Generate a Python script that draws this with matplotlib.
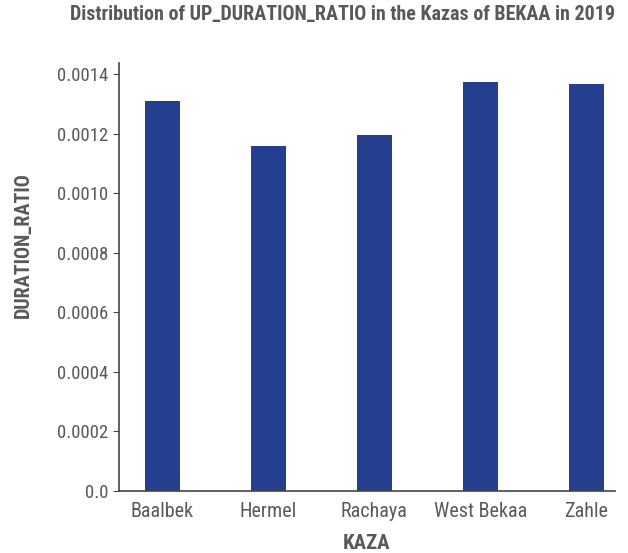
import matplotlib.pyplot as plt

kazas = ['Baalbek', 'Hermel', 'Rachaya', 'West Bekaa', 'Zahle']
ratios = [0.001309, 0.001158, 0.001195, 0.001373, 0.001366]
yticks = [0, 0.0002, 0.0004, 0.0006, 0.0008, 0.0010, 0.0012, 0.0014]
ytick_labels = ['0.0', '0.0002', '0.0004', '0.0006', '0.0008', '0.0010', '0.0012', '0.0014']

plt.rcParams['font.family'] = ['Roboto Condensed', 'Roboto', 'DejaVu Sans']

txt = '#595959'
fig = plt.figure(figsize=(6.28, 5.53), dpi=100)
ax = fig.add_axes([119 / 628, 1 - 491 / 553, 496 / 628, 428 / 553])

ax.bar(range(len(kazas)), ratios, width=0.33, color='#233F8E')
ax.set_xlim(-0.41, 4.27)
ax.set_ylim(0, 0.001437)
ax.set_xticks(range(len(kazas)))
ax.set_xticklabels(kazas)
ax.set_yticks(yticks)
ax.set_yticklabels(ytick_labels)
ax.tick_params(axis='y', labelsize=13.5, colors='#444444', labelcolor=txt, length=4)
ax.tick_params(axis='x', labelsize=14.5, labelcolor=txt, length=0, pad=8)

for s in ['top', 'right']:
    ax.spines[s].set_visible(False)
for s in ['left', 'bottom']:
    ax.spines[s].set_color('#444444')
    ax.spines[s].set_linewidth(1.2)

ax.set_xlabel('KAZA', fontsize=15, fontweight='bold', color=txt, labelpad=9)
ax.set_ylabel('DURATION_RATIO', fontsize=14.5, fontweight='bold', color=txt)
ax.yaxis.set_label_coords(-0.173, 0.575)
fig.text(343 / 628, 1 - 14 / 553, 'Distribution of UP_DURATION_RATIO in the Kazas of BEKAA in 2019',
         ha='center', va='center', fontsize=14.4, fontweight='bold', color=txt)

fig.savefig('out.png', dpi=100)
